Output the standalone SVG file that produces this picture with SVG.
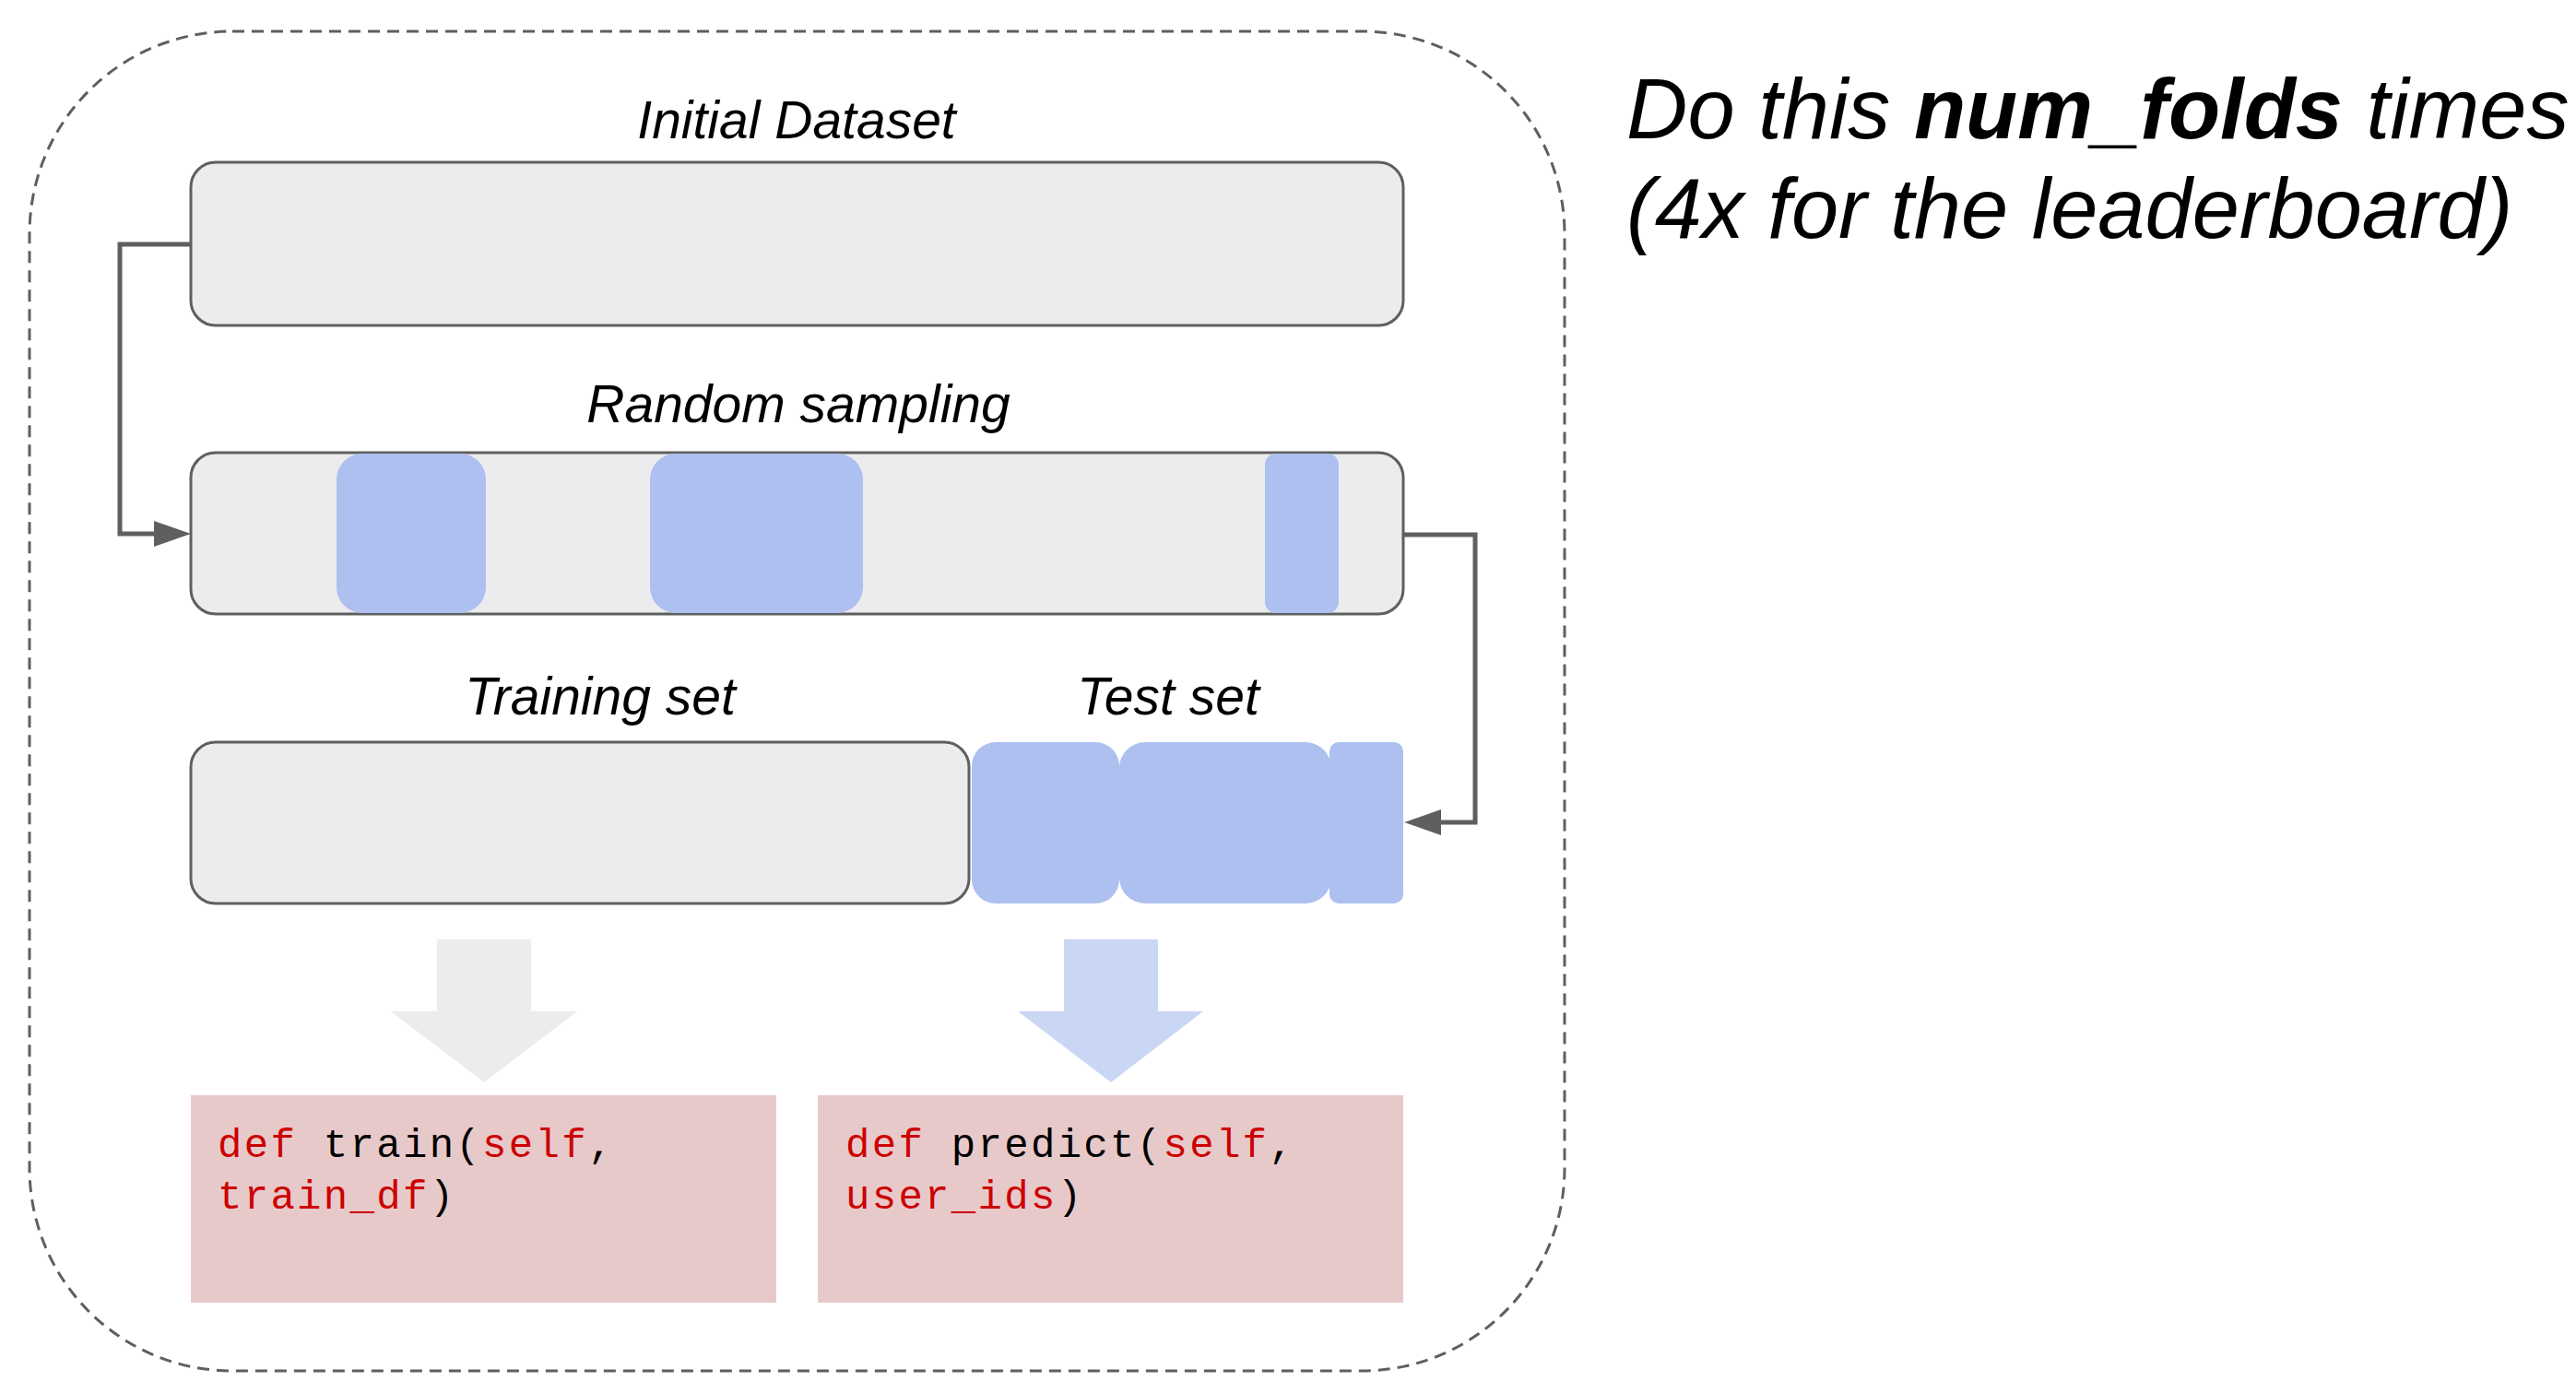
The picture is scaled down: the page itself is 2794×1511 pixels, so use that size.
<svg xmlns="http://www.w3.org/2000/svg" width="2794" height="1511" viewBox="0 0 2794 1511">
<style>
.bg{fill:#ffffff}
.frame{fill:none;stroke:#5f5f5f;stroke-width:3;stroke-dasharray:13 8}
.box{fill:#ececee;stroke:#5f5f5f;stroke-width:3}
.blue{fill:#adc0ef}
.lbl{font-family:"Liberation Sans",Arial,sans-serif;font-style:italic;font-size:57px;fill:#000;text-anchor:middle}
.big{font-family:"Liberation Sans",Arial,sans-serif;font-style:italic;font-size:92px;fill:#000}
.code{fill:#e8c9ca}
.mono{font-family:"Liberation Mono","Courier New",monospace;font-size:44px;letter-spacing:2.3px;fill:#000}
.kw{fill:#cc0000}
.conn{fill:none;stroke:#5f5f5f;stroke-width:5;stroke-linejoin:miter}
</style>
<defs>
<marker id="arr" viewBox="0 0 40 28" refX="30" refY="14" markerWidth="40" markerHeight="28" markerUnits="userSpaceOnUse" orient="auto">
<path d="M0,0 L40,14 L0,28 Z" fill="#5f5f5f"/>
</marker>
</defs>
<rect class="bg" x="0" y="0" width="2794" height="1511"/>
<g id="loop-frame">
<rect class="frame" x="32" y="34" width="1665" height="1453" rx="220" ry="220"/>
</g>
<g id="initial-dataset">
<text class="lbl" x="864" y="150">Initial Dataset</text>
<rect class="box" x="207" y="176" width="1315" height="177" rx="27" ry="27"/>
</g>
<g id="random-sampling">
<text class="lbl" x="866" y="458">Random sampling</text>
<rect class="box" x="207" y="491" width="1315" height="175" rx="27" ry="27"/>
<rect class="blue" x="365" y="492" width="162" height="173" rx="28" ry="28"/>
<rect class="blue" x="705" y="492" width="231" height="173" rx="28" ry="28"/>
<rect class="blue" x="1372" y="492" width="80" height="173" rx="12" ry="12"/>
</g>
<g id="training-set">
<text class="lbl" x="651" y="775">Training set</text>
<rect class="box" x="207" y="805" width="844" height="175" rx="27" ry="27"/>
</g>
<g id="test-set">
<text class="lbl" x="1267" y="775">Test set</text>
<rect class="blue" x="1054" y="805" width="160" height="175" rx="26" ry="26"/>
<rect class="blue" x="1214" y="805" width="230" height="175" rx="28" ry="28"/>
<rect class="blue" x="1442" y="805" width="80" height="175" rx="10" ry="10"/>
</g>
<g id="train-arrow">
<polygon points="474,1019 576,1019 576,1097 626,1097 525,1174 424,1097 474,1097" fill="#ececee"/>
</g>
<g id="predict-arrow">
<polygon points="1154,1019 1256,1019 1256,1097 1305,1097 1205,1174 1104,1097 1154,1097" fill="#c9d6f4"/>
</g>
<g id="train-code">
<rect class="code" x="207" y="1188" width="635" height="225"/>
<text class="mono" x="236" y="1255"><tspan class="kw">def</tspan> train(<tspan class="kw">self</tspan>,</text>
<text class="mono" x="236" y="1311"><tspan class="kw">train_df</tspan>)</text>
</g>
<g id="predict-code">
<rect class="code" x="887" y="1188" width="635" height="225"/>
<text class="mono" x="917" y="1255"><tspan class="kw">def</tspan> predict(<tspan class="kw">self</tspan>,</text>
<text class="mono" x="917" y="1311"><tspan class="kw">user_ids</tspan>)</text>
</g>
<g id="caption">
<text class="big" x="1764" y="150">Do this <tspan font-weight="bold">num_folds</tspan> times</text>
<text class="big" x="1764" y="258">(4x for the leaderboard)</text>
</g>
<g id="connectors">
<path class="conn" d="M207,265 H130 V579 H197" marker-end="url(#arr)"/>
<path class="conn" d="M1522,580 H1600 V892 H1533" marker-end="url(#arr)"/>
</g>
</svg>
